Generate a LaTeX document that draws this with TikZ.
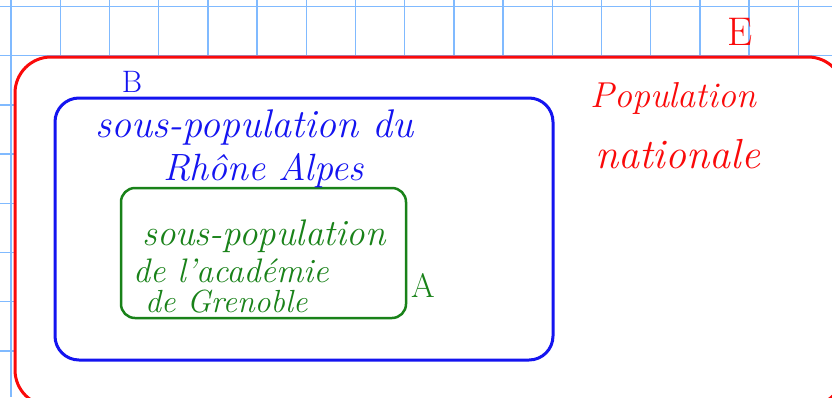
\documentclass[tikz,border=0pt]{standalone}
\usepackage{fontspec}
\definecolor{gridblue}{RGB}{128,186,255}
\definecolor{setred}{RGB}{250,10,10}
\definecolor{setblue}{RGB}{20,20,240}
\definecolor{setgreen}{RGB}{25,130,25}
\begin{document}
\begin{tikzpicture}[x=1pt,y=-1pt,
  gridline/.style={draw=gridblue, line width=1.4pt},
  setbox/.style={draw=#1, line width=3pt, fill=white, rectangle, inner sep=0pt},
  hand/.style={anchor=base west, inner sep=0pt, font=\itshape\fontsize{#1}{#1}\selectfont},
  letter/.style={inner sep=0pt, font=\fontsize{#1}{#1}\selectfont}]
\useasboundingbox (0,0) rectangle (832,397);
\clip (0,0) rectangle (832,397);
\fill[white] (0,0) rectangle (832,397);
% grid
\foreach \i in {0,...,17} \draw[gridline] (11+49.2*\i,0) -- (11+49.2*\i,397);
\foreach \j in {0,...,8} \draw[gridline] (0,6.5+49.2*\j) -- (832,6.5+49.2*\j);
% sets
\node[setbox=setred, rounded corners=36pt, minimum width=829pt, minimum height=349pt] (E) at (429.5,231.5) {};
\node[setbox=setblue, rounded corners=24pt, minimum width=498pt, minimum height=262pt] (B) at (304,229) {};
\node[setbox=setgreen, line width=2.5pt, rounded corners=14pt, minimum width=285pt, minimum height=130pt] (A) at (263.5,253) {};
% set letters
\node[letter=40, text=setred] (lE) at (740,32) {E};
\node[letter=31, text=setblue] (lB) at (132,82) {B};
\node[letter=34, text=setgreen] (lA) at (423,285) {A};
% texts
\node[hand=36, text=setred] (t1) at (590,107) {Population};
\node[hand=42, text=setred] (t2) at (595,168) {nationale};
\node[hand=40, text=setblue] (t3) at (95,137) {sous-population du};
\node[hand=38, text=setblue] (t4) at (163,180) {Rhône Alpes};
\node[hand=37, text=setgreen] (t5) at (142,245) {sous-population};
\node[hand=34, text=setgreen] (t6) at (133,282) {de l'académie};
\node[hand=32, text=setgreen] (t7) at (145,312) {de Grenoble};
\end{tikzpicture}
\end{document}
